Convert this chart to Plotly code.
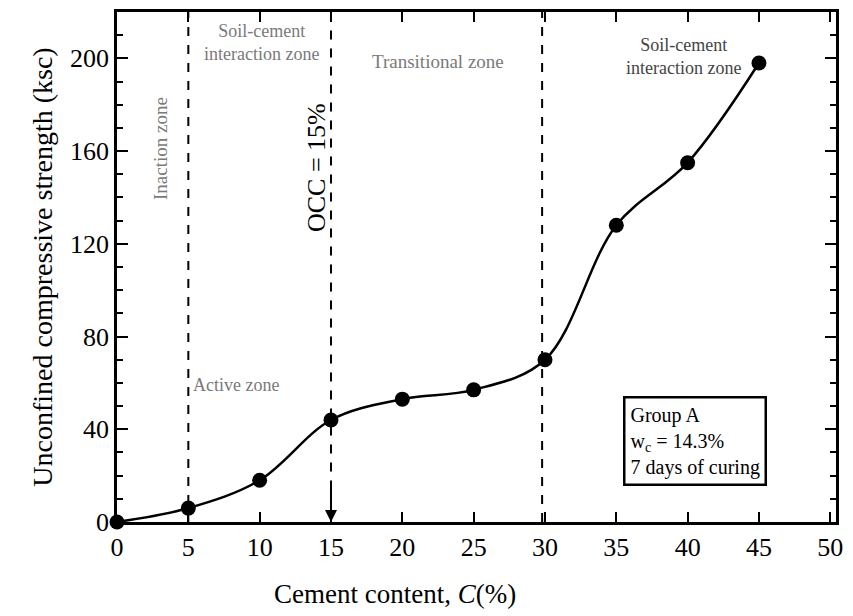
import plotly.graph_objects as go

cement = [0, 5, 10, 15, 20, 25, 30, 35, 40, 45]
strength = [0, 6, 18, 44, 53, 57, 70, 128, 155, 198]
x_ticks = [0, 5, 10, 15, 20, 25, 30, 35, 40, 45, 50]
y_ticks = [0, 40, 80, 120, 160, 200]
zone_lines = [5, 15, 29.8]
occ = 15

FONT = "Liberation Serif"
GRAY = "#7a7a7a"

fig = go.Figure()
fig.add_trace(go.Scatter(
    x=cement, y=strength, mode="lines+markers",
    line=dict(color="black", width=2.5, shape="spline", smoothing=1.0),
    marker=dict(color="black", size=15),
    showlegend=False, cliponaxis=False,
))

shapes = []
for xv in zone_lines:
    y0 = 0 if xv != occ else 14
    shapes.append(dict(type="line", xref="x", yref="y", x0=xv, x1=xv, y0=y0, y1=220,
                       line=dict(color="black", width=2, dash="dash")))

annotations = [
    dict(x=occ, y=0, ax=occ, ay=16, xref="x", yref="y", axref="x", ayref="y",
         showarrow=True, arrowhead=2, arrowsize=1.2, arrowwidth=2, arrowcolor="black", text=""),
    dict(x=3.1, y=161, xref="x", yref="y", text="Inaction zone", textangle=-90, showarrow=False,
         font=dict(family=FONT, size=19, color=GRAY)),
    dict(x=10.1, y=207, xref="x", yref="y", text="Soil-cement<br>interaction zone", showarrow=False,
         font=dict(family=FONT, size=18, color=GRAY)),
    dict(x=22.5, y=198.5, xref="x", yref="y", text="Transitional zone", showarrow=False,
         font=dict(family=FONT, size=19, color=GRAY)),
    dict(x=39.7, y=201, xref="x", yref="y", text="Soil-cement<br>interaction zone", showarrow=False,
         font=dict(family=FONT, size=18, color="#444")),
    dict(x=5.2, y=59, xref="x", yref="y", text="Active zone", showarrow=False, xanchor="left",
         font=dict(family=FONT, size=18, color=GRAY)),
    dict(x=14.0, y=153, xref="x", yref="y", text="OCC = 15%", textangle=-90, showarrow=False,
         font=dict(family=FONT, size=26, color="black")),
    dict(x=35.45, y=35, xref="x", yref="y", xanchor="left", yanchor="middle", align="left",
         text="Group A<br>w<sub>c</sub> = 14.3%<br>7 days of curing", showarrow=False,
         bordercolor="black", borderwidth=2.5, borderpad=5, bgcolor="white",
         font=dict(family=FONT, size=20, color="black")),
    dict(x=0.387, y=-0.142, xref="paper", yref="paper", xanchor="center", yanchor="middle",
         text="Cement content, <i>C</i>(%)", showarrow=False,
         font=dict(family=FONT, size=27, color="black")),
]

axis_common = dict(showline=True, linecolor="black", linewidth=2.5, mirror="ticks",
                   ticks="inside", tickcolor="black", tickwidth=2, showgrid=False, zeroline=False,
                   tickfont=dict(family=FONT, size=26, color="black"))

fig.update_layout(
    width=853, height=616,
    margin=dict(l=109, r=25, t=1, b=102),
    plot_bgcolor="white", paper_bgcolor="white",
    xaxis=dict(range=[0, 50.4], tickvals=x_ticks, ticklen=10, **axis_common),
    yaxis=dict(range=[0, 220], tickvals=y_ticks, ticklen=11,
               minor=dict(dtick=10, ticklen=6, ticks="inside", tickcolor="black", tickwidth=2, showgrid=False),
               title=dict(text="Unconfined compressive strength (ksc)", font=dict(family=FONT, size=28, color="black"),
                          standoff=10),
               **axis_common),
    shapes=shapes, annotations=annotations,
)

fig.write_html("out.html")
